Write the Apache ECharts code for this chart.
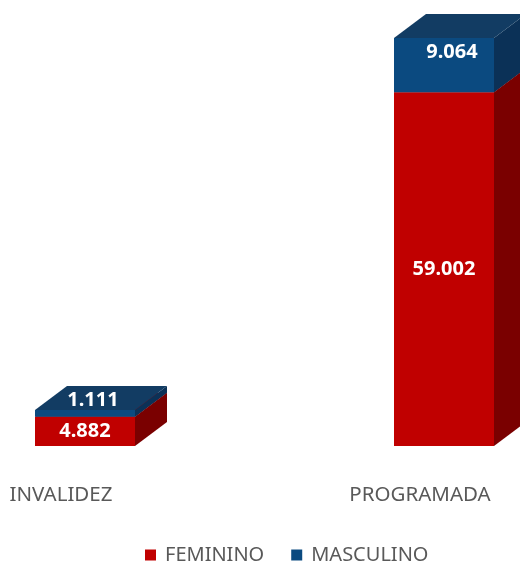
<!DOCTYPE html>
<html>
<head>
<meta charset="utf-8">
<script src="https://cdn.jsdelivr.net/npm/echarts@6/dist/echarts.min.js"></script>
<style>
  html, body { margin: 0; padding: 0; background: #fff; }
  #chart { width: 520px; height: 561px; }
</style>
</head>
<body>
<div id="chart"></div>
<script>
const categories = ['INVALIDEZ', 'PROGRAMADA']
const feminino = [4882, 59002]
const masculino = [1111, 9064]

// caja 3D: cara frontal desplazada respecto a la etiqueta del eje
const FRONT_LEFT = -26
const FRONT_W = 100
const DX = 32
const DY = 24

const RED = { front: '#c00000', side: '#7a0000', top: '#9a0000' }
const BLUE = { front: '#0b4a80', side: '#0b3157', top: '#123c63' }

const totals = feminino.map((v, i) => v + masculino[i])

function fmt(v) {
  return String(v).replace(/\B(?=(\d{3})+(?!\d))/g, '.')
}

function makeRender(colors, isUpper) {
  return function (params, api) {
    const cat = api.value(0)
    const lo = api.value(1)
    const hi = api.value(2)
    const p0 = api.coord([cat, lo])
    const p1 = api.coord([cat, hi])
    const left = p0[0] + FRONT_LEFT
    const right = left + FRONT_W
    const bottom = p0[1]
    const top = p1[1]

    const lx = isUpper ? (left + right) / 2 + 8 : (left + right) / 2
    const ly = isUpper ? (top - DY + bottom) / 2 - 1 : (top + bottom) / 2

    return {
      type: 'group',
      children: [
        {
          type: 'rect',
          shape: { x: left, y: top, width: FRONT_W, height: bottom - top },
          style: { fill: colors.front }
        },
        {
          type: 'polygon',
          shape: { points: [[right, bottom], [right + DX, bottom - DY], [right + DX, top - DY], [right, top]] },
          style: { fill: colors.side }
        },
        {
          type: 'polygon',
          shape: { points: [[left, top], [right, top], [right + DX, top - DY], [left + DX, top - DY]] },
          style: { fill: colors.top }
        },
        {
          type: 'text',
          x: lx,
          y: ly,
          style: {
            text: fmt(api.value(3)),
            fill: '#ffffff',
            font: 'bold 20px "Noto Sans"',
            align: 'center',
            verticalAlign: 'middle'
          }
        }
      ]
    }
  }
}

const chart = echarts.init(document.getElementById('chart'))

chart.setOption({
  backgroundColor: '#ffffff',
  animation: false,
  grid: {
    left: 61,
    right: 100,
    top: 38,
    bottom: 115
  },
  legend: {
    left: 140,
    top: 540,
    itemWidth: 11,
    itemHeight: 11,
    itemGap: 27,
    icon: 'rect',
    textStyle: {
      fontFamily: 'Noto Sans',
      fontSize: 20,
      color: '#595959',
      padding: [0, 0, 0, 4]
    },
    data: ['FEMININO', 'MASCULINO']
  },
  xAxis: {
    type: 'category',
    data: categories,
    boundaryGap: false,
    axisLine: { show: false },
    axisTick: { show: false },
    splitLine: { show: false },
    axisLabel: {
      interval: 0,
      margin: 39,
      fontFamily: 'Noto Sans',
      fontSize: 20.5,
      color: '#595959'
    }
  },
  yAxis: {
    type: 'value',
    min: 0,
    max: Math.max(...totals),
    show: false,
    splitLine: { show: false }
  },
  series: [
    {
      name: 'FEMININO',
      type: 'custom',
      itemStyle: { color: RED.front },
      renderItem: makeRender(RED, false),
      encode: { x: 0, y: [1, 2] },
      data: feminino.map((v, i) => [i, 0, v, v])
    },
    {
      name: 'MASCULINO',
      type: 'custom',
      itemStyle: { color: BLUE.front },
      renderItem: makeRender(BLUE, true),
      encode: { x: 0, y: [1, 2] },
      data: masculino.map((v, i) => [i, feminino[i], feminino[i] + v, v])
    }
  ]
})
</script>
</body>
</html>
